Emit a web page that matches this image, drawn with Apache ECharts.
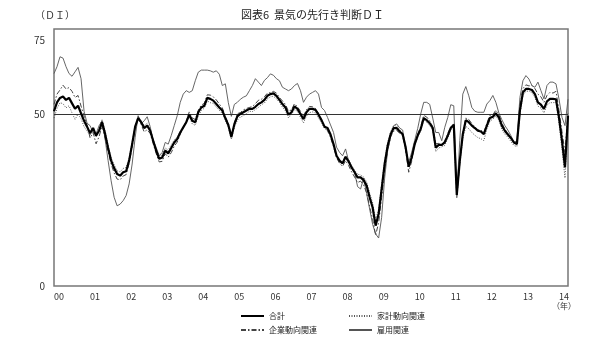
<!DOCTYPE html>
<html>
<head>
<meta charset="utf-8">
<script src="https://cdn.jsdelivr.net/npm/echarts@6/dist/echarts.min.js"></script>
<style>html,body{margin:0;padding:0;background:#fff;}#c{width:600px;height:356px;}</style>
</head>
<body>
<div id="c"></div>
<script>
const yearLabels = ['00','01','02','03','04','05','06','07','08','09','10','11','12','13','14'];
const lastYearMonths = 4;
const yTicks = [0, 50, 75];
const seriesNames = ['合計', '家計動向関連', '企業動向関連', '雇用関連'];

// 合計
const total = [
  51.0, 53.6, 54.9, 55.3, 54.3, 54.9, 53.3, 51.7, 52.6, 50.4, 48.2, 46.5,
  44.6, 46.1, 43.9, 45.3, 47.8, 44.4, 40.3, 36.6, 34.4, 32.7, 32.2, 33.2,
  33.5, 36.6, 41.4, 46.5, 49.0, 47.8, 46.1, 46.8, 45.3, 42.4, 39.5, 37.1,
  37.5, 39.5, 38.7, 40.3, 41.9, 42.9, 44.8, 46.3, 47.8, 50.0, 48.2, 47.8,
  50.7, 52.1, 52.6, 54.9, 54.6, 54.1, 53.1, 52.1, 51.2, 49.0, 47.0, 43.5,
  47.2, 49.5, 50.2, 50.7, 51.2, 51.7, 51.7, 52.3, 53.1, 53.6, 54.3, 55.5,
  56.0, 56.2, 55.5, 54.3, 53.1, 52.1, 50.0, 50.7, 52.4, 51.7, 50.2, 48.7,
  50.7, 51.7, 51.7, 51.4, 50.0, 48.4, 46.5, 46.1, 44.2, 41.4, 38.0, 36.6,
  35.8, 37.7, 36.4, 34.6, 33.2, 31.7, 31.7, 30.9, 29.3, 25.9, 22.9, 17.6,
  21.0, 28.3, 35.6, 40.9, 44.3, 46.1, 46.1, 45.1, 44.3, 40.4, 34.8, 37.5,
  41.4, 43.9, 45.8, 49.0, 48.4, 47.5, 46.1, 40.4, 41.2, 41.2, 41.9, 43.9,
  46.1, 47.1, 26.6, 36.5, 44.3, 48.4, 47.8, 46.8, 46.1, 45.3, 45.1, 44.3,
  46.8, 49.0, 49.4, 50.4, 49.2, 46.8, 45.3, 44.2, 43.2, 41.9, 41.4, 51.2,
  56.5, 57.5, 57.5, 57.2, 56.0, 53.6, 52.9, 51.7, 53.9, 54.6, 54.6, 54.5,
  49.2, 42.4, 34.6, 49.7
];
// 家計動向関連
const household = [
  49.0, 51.8, 53.5, 53.2, 52.0, 52.6, 50.5, 48.6, 50.2, 48.8, 46.5, 45.2,
  44.0, 45.5, 43.5, 45.8, 48.6, 45.2, 41.0, 37.5, 35.4, 33.6, 33.3, 34.3,
  34.6, 37.4, 42.0, 46.8, 49.5, 48.3, 46.8, 47.5, 45.6, 42.8, 40.1, 37.9,
  38.2, 40.3, 39.6, 41.2, 42.6, 43.5, 45.1, 46.5, 47.6, 49.4, 47.3, 46.9,
  49.6, 51.2, 51.9, 54.0, 53.5, 53.3, 52.2, 51.3, 50.3, 48.3, 46.2, 42.8,
  46.3, 48.4, 49.3, 49.7, 50.3, 51.0, 50.9, 51.5, 52.1, 52.9, 53.4, 54.6,
  55.2, 55.4, 54.6, 53.6, 52.2, 51.1, 49.1, 50.0, 51.5, 51.0, 49.2, 47.6,
  49.6, 50.6, 50.8, 50.5, 49.0, 47.6, 45.9, 45.6, 43.8, 41.0, 37.8, 36.3,
  35.9, 37.9, 36.9, 35.2, 33.8, 32.6, 32.4, 31.8, 30.4, 27.1, 24.3, 19.4,
  22.4, 29.6, 36.6, 41.8, 45.1, 46.8, 46.7, 45.6, 44.6, 40.9, 35.3, 37.6,
  41.0, 43.5, 45.3, 48.5, 47.8, 46.8, 45.4, 39.2, 40.3, 40.6, 41.0, 43.1,
  45.6, 46.5, 26.2, 35.5, 43.0, 46.6, 45.9, 44.8, 44.0, 43.3, 43.0, 42.4,
  45.8, 48.1, 48.7, 49.6, 48.4, 45.7, 44.3, 43.4, 42.2, 41.0, 40.7, 50.0,
  55.6, 56.8, 56.9, 56.4, 55.0, 52.5, 51.9, 50.5, 52.8, 53.5, 53.5, 53.6,
  47.5, 40.0, 31.5, 50.0
];
// 企業動向関連
const corporate = [
  53.0, 56.0, 57.2, 58.6, 57.5, 57.9, 56.8, 55.0, 55.6, 52.5, 49.6, 47.0,
  43.2, 44.8, 41.5, 43.6, 46.8, 43.1, 39.2, 35.6, 33.0, 31.2, 31.0, 32.1,
  32.5, 35.8, 40.6, 46.2, 49.3, 47.1, 45.0, 45.6, 44.5, 41.5, 38.6, 36.2,
  36.4, 38.6, 37.6, 38.9, 40.8, 42.0, 44.3, 46.2, 48.1, 50.8, 49.0, 48.6,
  51.3, 52.8, 53.3, 55.8, 55.7, 55.2, 54.3, 53.1, 52.0, 49.5, 47.4, 44.0,
  47.6, 50.3, 50.6, 51.4, 51.8, 52.1, 52.4, 53.2, 54.2, 54.5, 55.2, 56.3,
  56.4, 56.8, 56.3, 55.0, 54.0, 53.0, 51.0, 51.4, 53.2, 52.3, 51.0, 49.5,
  51.5, 52.4, 52.3, 51.8, 50.4, 48.5, 46.2, 45.3, 43.3, 40.6, 37.4, 35.8,
  34.9, 36.6, 35.2, 33.3, 31.8, 30.2, 30.6, 29.5, 27.2, 23.2, 19.5, 14.8,
  18.5, 25.8, 34.0, 39.5, 43.6, 45.2, 45.4, 44.6, 43.8, 39.6, 33.2, 36.4,
  41.8, 44.3, 46.5, 49.8, 49.3, 48.2, 46.5, 41.5, 41.6, 40.9, 42.4, 44.5,
  46.4, 47.3, 25.8, 36.0, 44.6, 49.0, 48.6, 47.4, 46.5, 45.6, 45.5, 44.8,
  47.5, 49.8, 50.0, 51.3, 50.0, 47.6, 45.8, 44.5, 43.3, 41.8, 41.6, 52.6,
  57.6, 58.7, 58.4, 58.5, 57.6, 56.0, 55.2, 53.6, 55.6, 56.5, 56.3, 56.8,
  51.3, 45.0, 39.0, 50.5
];
// 雇用関連
const employment = [
  62.0, 64.0, 66.9, 66.5, 64.0, 62.0, 61.2, 62.5, 63.8, 60.5, 51.0, 47.5,
  46.8, 44.8, 44.4, 46.8, 48.2, 42.9, 36.6, 30.7, 25.9, 23.4, 23.9, 24.9,
  26.4, 29.8, 35.6, 43.4, 49.7, 47.3, 48.2, 49.4, 46.5, 42.4, 40.4, 38.0,
  39.0, 41.9, 41.4, 43.9, 46.8, 49.7, 53.6, 56.0, 57.0, 56.5, 57.0, 59.9,
  62.4, 63.0, 63.0, 63.0, 62.8, 62.4, 62.8, 61.8, 58.5, 59.0, 53.5, 49.5,
  53.0, 53.6, 54.5, 55.1, 55.5, 57.0, 58.5, 60.5, 59.5, 58.5, 60.0, 60.8,
  61.9, 61.5, 60.5, 59.9, 58.0, 57.5, 57.0, 57.5, 58.5, 59.1, 57.0, 53.6,
  55.1, 56.0, 56.5, 57.0, 56.0, 52.1, 51.2, 49.2, 47.0, 44.8, 40.5, 39.0,
  38.0, 40.0, 36.5, 34.5, 33.2, 29.0, 28.3, 31.5, 27.0, 22.5, 18.0, 15.2,
  14.0, 20.0, 31.5, 39.5, 43.5, 46.8, 47.3, 46.1, 45.5, 39.5, 36.1, 39.0,
  42.5, 46.0, 50.2, 53.6, 53.6, 53.0, 49.0, 44.8, 44.8, 42.4, 46.3, 49.2,
  52.9, 52.6, 27.0, 42.4, 56.0, 58.2, 55.5, 52.1, 51.0, 50.7, 50.7, 50.7,
  53.1, 54.1, 55.6, 53.6, 50.5, 48.5, 46.8, 45.5, 43.9, 41.9, 42.4, 55.0,
  59.9, 61.4, 60.4, 58.5, 58.0, 59.5, 57.0, 54.6, 58.5, 59.5, 59.5, 59.0,
  54.6, 49.2, 46.8, 54.5
];

const categories = [];
yearLabels.forEach((y, yi) => {
  const n = yi === yearLabels.length - 1 ? lastYearMonths : 12;
  for (let m = 1; m <= n; m++) categories.push(y + '-' + m);
});

const FONT = '"Noto Sans CJK JP", sans-serif';
const legendCommon = {
  orient: 'vertical', top: 312, itemWidth: 23, itemHeight: 9, itemGap: 6, padding: 0,
  itemStyle: {opacity: 0},
  textStyle: {fontSize: 8, color: '#222', fontFamily: FONT}
};
const chart = echarts.init(document.getElementById('c'), null, {renderer: 'canvas'});
chart.setOption({
  animation: false,
  backgroundColor: '#fff',
  textStyle: {fontFamily: FONT},
  title: [
    {text: '図表6  景気の先行き判断ＤＩ', left: 236, top: 4,
     textStyle: {fontSize: 11, fontWeight: 'normal', color: '#222', fontFamily: FONT}},
    {text: '（ＤＩ）', left: 30, top: 5,
     textStyle: {fontSize: 10, fontWeight: 'normal', color: '#333', fontFamily: FONT}}
  ],
  grid: {left: 54, right: 32, top: 29, bottom: 70, show: true, borderColor: '#777', borderWidth: 1.5, backgroundColor: 'transparent'},
  legend: [
    Object.assign({data: [seriesNames[0], seriesNames[2]], left: 240}, legendCommon),
    Object.assign({data: [seriesNames[1], seriesNames[3]], left: 348}, legendCommon)
  ],
  xAxis: {
    type: 'category', data: categories, boundaryGap: false,
    axisLine: {show: false}, axisTick: {show: false}, splitLine: {show: false},
    axisLabel: {
      interval: (idx) => idx % 12 === 0,
      formatter: (v) => v.split('-')[0],
      align: 'left', margin: 6, fontSize: 9, color: '#333', fontFamily: FONT
    }
  },
  yAxis: {
    type: 'value', min: 0, max: 75, interval: 25,
    axisLine: {show: false}, axisTick: {show: false}, splitLine: {show: false},
    axisLabel: {
      margin: 9, fontSize: 10, color: '#333', fontFamily: FONT,
      formatter: (v) => yTicks.indexOf(v) < 0 ? '' : (v === 75 ? '{t|' + v + '}' : String(v)),
      rich: {t: {padding: [22, 0, 0, 0], fontSize: 10, color: '#333', fontFamily: FONT}}
    }
  },
  series: [
    {name: seriesNames[3], type: 'line', data: employment, symbol: 'none', z: 2,
     lineStyle: {color: '#555', width: 0.9}, itemStyle: {color: '#555'},
     markLine: {silent: true, symbol: 'none', label: {show: false},
       lineStyle: {color: '#333', width: 1, type: 'solid'}, data: [{yAxis: 50}]}},
    {name: seriesNames[2], type: 'line', data: corporate, symbol: 'none', z: 3,
     lineStyle: {color: '#444', width: 1, type: [5, 2, 1.5, 2]}, itemStyle: {color: '#444'}},
    {name: seriesNames[1], type: 'line', data: household, symbol: 'none', z: 3,
     lineStyle: {color: '#555', width: 1, type: [1, 1.5]}, itemStyle: {color: '#555'}},
    {name: seriesNames[0], type: 'line', data: total, symbol: 'none', z: 5,
     lineStyle: {color: '#000', width: 2.2}, itemStyle: {color: '#000'}}
  ],
  graphic: [
    {type: 'text', left: 552, top: 302, style: {text: '（年）', fontSize: 8, fill: '#333', fontFamily: FONT}}
  ]
});
</script>
</body>
</html>
